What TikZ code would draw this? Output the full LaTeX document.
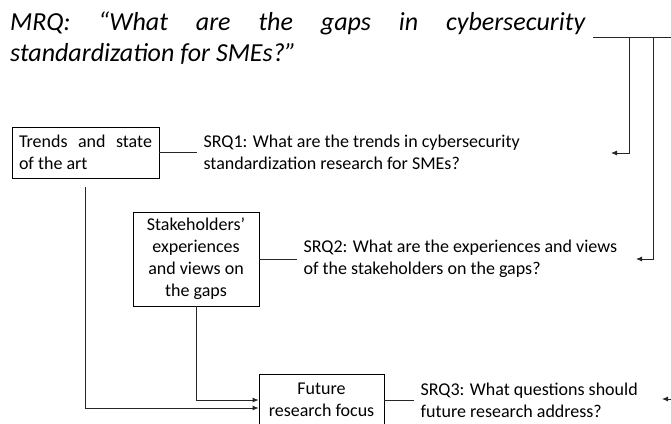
\documentclass[tikz,border=0pt]{standalone}
\usepackage{fontspec}
\setmainfont{Carlito}
\usetikzlibrary{positioning}
\usetikzlibrary{arrows.meta}

\tikzset{
  box/.style={draw, line width=0.8pt, inner sep=0pt, font=\fontsize{18}{22}\selectfont},
  srq/.style={inner sep=6pt, align=left, font=\fontsize{18}{22}\selectfont},
  link/.style={line width=0.8pt, draw=black!85},
  arr/.style={link, -{Latex[length=6pt,width=5pt]}}
}

\begin{document}
\begin{tikzpicture}[x=1pt,y=-1pt]
\useasboundingbox (0,0) rectangle (671,423);
\node[anchor=north west, inner sep=0pt, text width=575pt, align=justify, font=\fontsize{26}{31}\selectfont\itshape] (mrq) at (10,12) {MRQ: “What are the gaps in cybersecurity\linebreak standardization for SMEs?”};

\node[box, minimum width=147pt, minimum height=51pt, text width=133pt, align=justify] (tsa) at (85.5,152.5) {Trends and state\linebreak of the art};
\node[box, minimum width=126pt, minimum height=94pt, align=center] (shv) at (196,259) {Stakeholders’\\experiences\\and views on\\the gaps};
\node[box, minimum width=125pt, minimum height=52pt, align=center] (frf) at (321.5,400) {Future\\research focus};

\node[srq, right=38pt of tsa] (srq1) {SRQ1: What are the trends in cybersecurity\\standardization research for SMEs?};
\node[srq, right=38pt of shv] (srq2) {SRQ2: What are the experiences and views\\of the stakeholders on the gaps?};
\node[srq, right=30pt of frf] (srq3) {SRQ3: What questions should\\future research address?};

\draw[link] (tsa.east) -- (srq1.west);
\draw[link] (shv.east) -- (srq2.west);
\draw[link] (frf.east) -- (srq3.west);

\draw[arr] ([yshift=-9pt]tsa.south) |- ([yshift=-8pt]frf.west);
\draw[arr] (shv.south) |- (frf.west);

\coordinate (mrqtail) at (593,37);
\coordinate (mrqend) at (671,37);
\coordinate (q1) at (611,153);
\coordinate (q2) at (636,259);
\coordinate (q3in) at (671,399);
\coordinate (q3) at (662,399);
\draw[link] (mrqtail) -- (mrqend);
\draw[arr] (629,37) |- (q1);
\draw[arr] (653,37) |- (q2);
\draw[arr] (q3in) -- (q3);
\end{tikzpicture}
\end{document}
